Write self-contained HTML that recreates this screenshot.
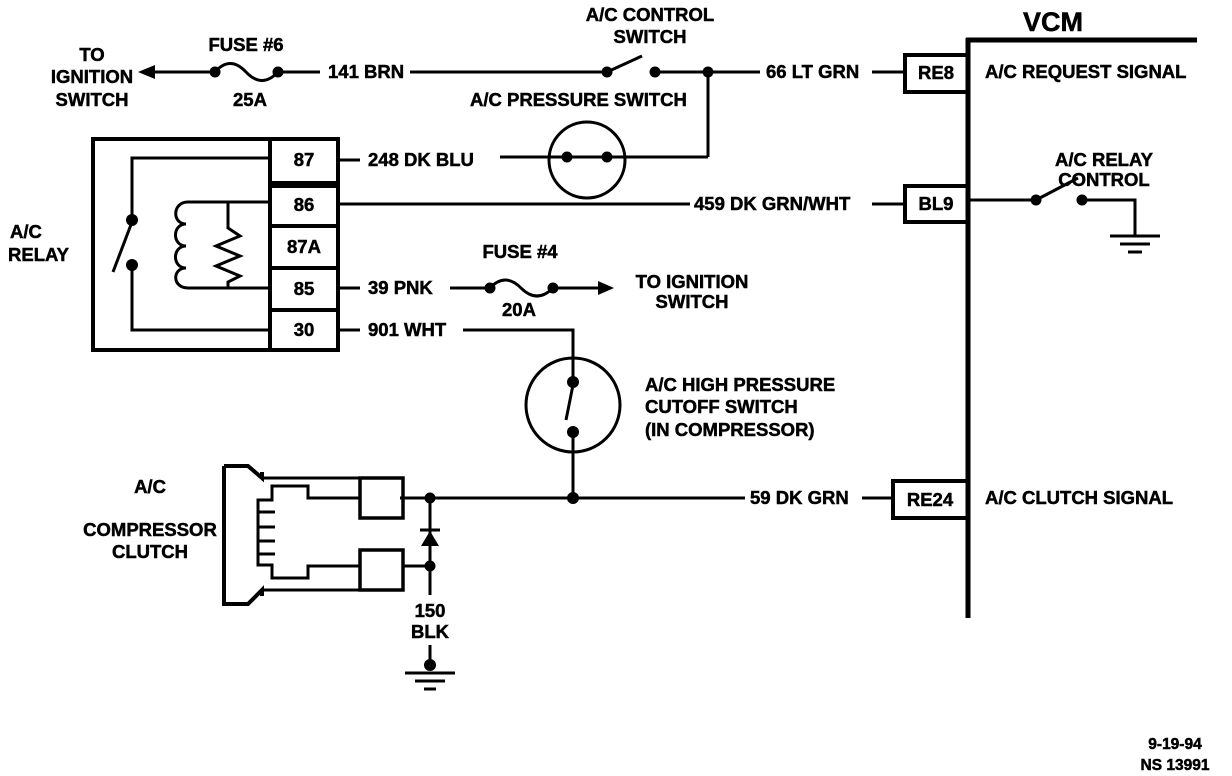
<!DOCTYPE html>
<html><head><style>body{margin:0;background:#fff}svg{display:block}text{font-family:"Liberation Sans",sans-serif;font-weight:bold;font-size:18.5px;fill:#000;stroke:#000;stroke-width:0.5}</style></head><body>
<svg width="1232" height="776" viewBox="0 0 1232 776" xmlns="http://www.w3.org/2000/svg">
<g fill="none" stroke="#000" stroke-width="3">
<line x1="150" y1="72" x2="215" y2="72"/>
<path d="M215 72 Q230 55 246 72 Q262 89 278 72"/>
<line x1="278" y1="72" x2="320" y2="72"/>
<line x1="410" y1="72" x2="607" y2="72"/>
<line x1="607" y1="72" x2="642" y2="56"/>
<line x1="655" y1="72" x2="760" y2="72"/>
<line x1="708" y1="72" x2="708" y2="157"/>
<line x1="872" y1="72" x2="905" y2="72"/>
<line x1="500" y1="157" x2="567" y2="157"/>
<circle cx="587" cy="160" r="38"/>
<line x1="567" y1="157" x2="607" y2="157"/>
<line x1="607" y1="157" x2="708" y2="157"/>
<rect x="93" y="139" width="245" height="211" stroke-width="4"/>
<rect x="270" y="139" width="68" height="44" stroke-width="4"/>
<rect x="270" y="186" width="68" height="40" stroke-width="4"/>
<rect x="270" y="226" width="68" height="42" stroke-width="4"/>
<rect x="270" y="268" width="68" height="42" stroke-width="4"/>
<rect x="270" y="310" width="68" height="40" stroke-width="4"/>
<polyline points="268,158 132,158 132,220"/>
<line x1="132" y1="222" x2="113" y2="272"/>
<polyline points="132,265 132,330 268,330"/>
<polyline points="268,202 188,202"/>
<path d="M188 202 C172 202 172 224 186 224 C172 224 172 246 186 246 C172 246 172 268 186 268 C172 268 172 288 188 288"/>
<polyline points="228,202 228,228 240,236 216,246 240,256 216,266 240,276 228,282 228,288"/>
<line x1="188" y1="288" x2="268" y2="288"/>
<line x1="338" y1="160" x2="360" y2="160"/>
<line x1="338" y1="204" x2="690" y2="204"/>
<line x1="338" y1="288" x2="360" y2="288"/>
<line x1="338" y1="330" x2="360" y2="330"/>
<line x1="450" y1="288" x2="490" y2="288"/>
<path d="M490 288 Q505 272 521 288 Q537 304 553 288"/>
<line x1="553" y1="288" x2="605" y2="288"/>
<polyline points="463,330 573,330 573,382"/>
<circle cx="573" cy="405" r="47"/>
<line x1="573" y1="385" x2="566" y2="420"/>
<line x1="573" y1="432" x2="573" y2="498"/>
<line x1="400" y1="498" x2="745" y2="498"/>
<line x1="862" y1="498" x2="893" y2="498"/>
<line x1="968" y1="38" x2="968" y2="618" stroke-width="5"/>
<line x1="966" y1="40" x2="1197" y2="40" stroke-width="5"/>
<rect x="905" y="55" width="63" height="37" stroke-width="4"/>
<rect x="905" y="186" width="63" height="36" stroke-width="4"/>
<rect x="893" y="481" width="75" height="37" stroke-width="4"/>
<line x1="872" y1="204" x2="905" y2="204"/>
<line x1="968" y1="200" x2="1036" y2="200"/>
<line x1="1036" y1="200" x2="1078" y2="178"/>
<polyline points="1082,200 1135,200 1135,235"/>
<line x1="1110" y1="236" x2="1160" y2="236"/>
<line x1="1120" y1="244" x2="1150" y2="244"/>
<line x1="1128" y1="252" x2="1142" y2="252"/>
<path d="M224 466 L248 466 L262 478 L262 472 M224 466 L224 604 L248 604 L262 590 L262 596" stroke-width="4"/>
<line x1="262" y1="478" x2="360" y2="478"/>
<line x1="262" y1="590" x2="360" y2="590"/>
<rect x="360" y="478" width="43" height="40" stroke-width="3.5"/>
<rect x="360" y="550" width="43" height="40" stroke-width="3.5"/>
<polyline points="360,498 308,498 308,486 272,486 272,500 258,500 258,565 272,565 272,578 308,578 308,566 360,566"/>
<line x1="258" y1="512" x2="275" y2="512"/>
<line x1="258" y1="527" x2="275" y2="527"/>
<line x1="258" y1="541" x2="275" y2="541"/>
<line x1="258" y1="554" x2="275" y2="554"/>
<line x1="403" y1="498" x2="430" y2="498"/>
<line x1="403" y1="566" x2="430" y2="566"/>
<line x1="430" y1="498" x2="430" y2="595"/>
<line x1="420" y1="530" x2="440" y2="530"/>
<line x1="430" y1="645" x2="430" y2="665"/>
<line x1="405" y1="673" x2="455" y2="673"/>
<line x1="415" y1="681" x2="445" y2="681"/>
<line x1="424" y1="689" x2="436" y2="689"/>
</g>
<g fill="#000">
<polygon points="138,72 155,65 155,79"/>
<polygon points="614,288 598,281 598,295"/>
<polygon points="421,546 439,546 430,531"/>
<circle cx="215" cy="72" r="5.5"/><circle cx="278" cy="72" r="5.5"/>
<circle cx="607" cy="72" r="5.5"/><circle cx="655" cy="72" r="5.5"/><circle cx="708" cy="72" r="5.5"/>
<circle cx="567" cy="157" r="5.5"/><circle cx="607" cy="157" r="5.5"/>
<circle cx="132" cy="220" r="6"/><circle cx="132" cy="265" r="6"/>
<circle cx="490" cy="288" r="5.5"/><circle cx="553" cy="288" r="5.5"/>
<circle cx="573" cy="382" r="6"/><circle cx="573" cy="432" r="6"/><circle cx="573" cy="498" r="6"/>
<circle cx="1036" cy="200" r="5.5"/><circle cx="1082" cy="200" r="5.5"/>
<circle cx="430" cy="498" r="5.5"/><circle cx="430" cy="566" r="5.5"/><circle cx="430" cy="665" r="6"/>
</g>
<text x="92" y="61" text-anchor="middle">TO</text>
<text x="92" y="83" text-anchor="middle">IGNITION</text>
<text x="92" y="106" text-anchor="middle">SWITCH</text>
<text x="246" y="51" text-anchor="middle">FUSE #6</text>
<text x="250" y="106" text-anchor="middle">25A</text>
<text x="328" y="78">141 BRN</text>
<text x="650" y="21" text-anchor="middle">A/C CONTROL</text>
<text x="650" y="43" text-anchor="middle">SWITCH</text>
<text x="470" y="106">A/C PRESSURE SWITCH</text>
<text x="766" y="78">66 LT GRN</text>
<text x="1023" y="31" style="font-size:27px">VCM</text>
<text x="936" y="79" text-anchor="middle">RE8</text>
<text x="985" y="78">A/C REQUEST SIGNAL</text>
<text x="304" y="166" text-anchor="middle">87</text>
<text x="304" y="211" text-anchor="middle">86</text>
<text x="304" y="253" text-anchor="middle">87A</text>
<text x="304" y="295" text-anchor="middle">85</text>
<text x="304" y="336" text-anchor="middle">30</text>
<text x="368" y="166">248 DK BLU</text>
<text x="694" y="210">459 DK GRN/WHT</text>
<text x="936" y="210" text-anchor="middle">BL9</text>
<text x="1104" y="166" text-anchor="middle">A/C RELAY</text>
<text x="1104" y="186" text-anchor="middle">CONTROL</text>
<text x="10" y="238">A/C</text>
<text x="8" y="261">RELAY</text>
<text x="368" y="294">39 PNK</text>
<text x="520" y="258" text-anchor="middle">FUSE #4</text>
<text x="519" y="316" text-anchor="middle">20A</text>
<text x="692" y="288" text-anchor="middle">TO IGNITION</text>
<text x="692" y="308" text-anchor="middle">SWITCH</text>
<text x="368" y="336">901 WHT</text>
<text x="645" y="391">A/C HIGH PRESSURE</text>
<text x="645" y="413">CUTOFF SWITCH</text>
<text x="645" y="436">(IN COMPRESSOR)</text>
<text x="750" y="504">59 DK GRN</text>
<text x="930" y="506" text-anchor="middle">RE24</text>
<text x="985" y="504">A/C CLUTCH SIGNAL</text>
<text x="150" y="493" text-anchor="middle">A/C</text>
<text x="150" y="536" text-anchor="middle">COMPRESSOR</text>
<text x="150" y="558" text-anchor="middle">CLUTCH</text>
<text x="430" y="617" text-anchor="middle">150</text>
<text x="430" y="638" text-anchor="middle">BLK</text>
<text x="1175" y="749" text-anchor="middle" style="font-size:15.5px">9-19-94</text>
<text x="1175" y="770" text-anchor="middle" style="font-size:15.5px">NS 13991</text>
</svg>
</body></html>
